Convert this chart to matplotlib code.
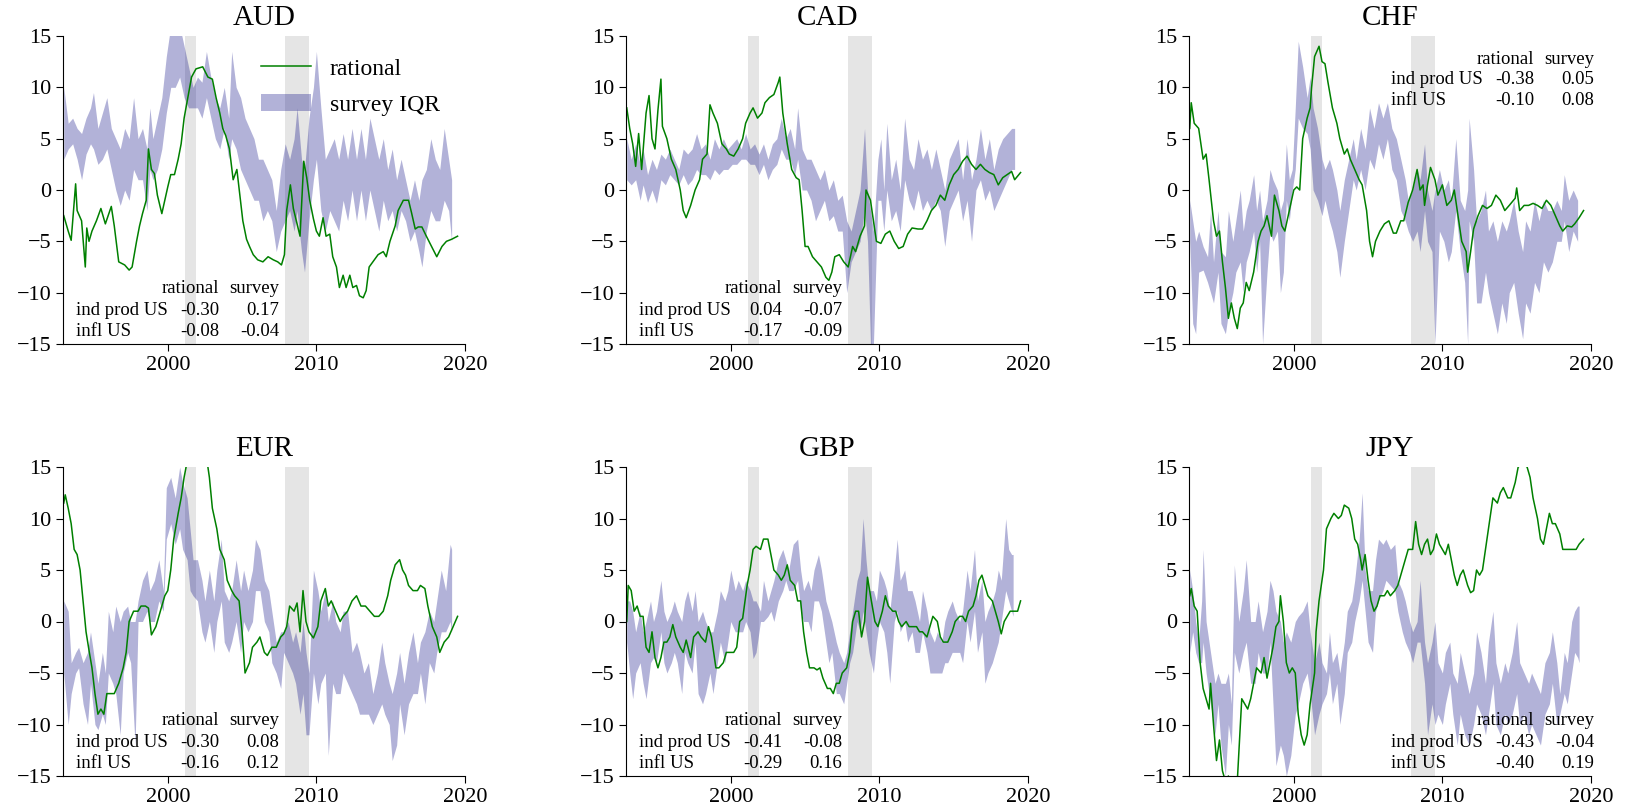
import matplotlib
matplotlib.use('Agg')
import matplotlib.pyplot as plt
import numpy as np

plt.rcParams['font.family'] = 'serif'
plt.rcParams['font.serif'] = ['Liberation Serif', 'DejaVu Serif']

# ---- data (years, percent) ----
aud_t = [1993.0, 1993.1, 1993.3, 1993.5, 1993.8, 1993.9, 1994.2, 1994.45, 1994.55, 1994.7,
         1994.9, 1995.2, 1995.5, 1995.8, 1996.2, 1996.4, 1996.7, 1997.1, 1997.4, 1997.6,
         1997.9, 1998.1, 1998.3, 1998.55, 1998.7, 1998.9, 1999.1, 1999.3, 1999.6, 1999.8,
         2000.0, 2000.2, 2000.45, 2000.7, 2000.9, 2001.1, 2001.35, 2001.6, 2001.9, 2002.35,
         2002.7, 2003.0, 2003.25, 2003.5, 2003.7, 2003.9, 2004.15, 2004.4, 2004.65, 2004.85,
         2005.05, 2005.3, 2005.5, 2005.75, 2006.05, 2006.4, 2006.75, 2007.1, 2007.4, 2007.65,
         2007.85, 2008.0, 2008.25, 2008.45, 2008.65, 2008.9, 2009.15, 2009.35, 2009.55, 2009.8,
         2010.0, 2010.2, 2010.45, 2010.65, 2010.9, 2011.1, 2011.35, 2011.55, 2011.8, 2012.0,
         2012.25, 2012.45, 2012.7, 2012.9, 2013.15, 2013.35, 2013.55, 2013.8, 2014.15, 2014.5,
         2014.7, 2014.95, 2015.3, 2015.5, 2015.85, 2016.2, 2016.4, 2016.65, 2016.85, 2017.1,
         2017.4, 2017.75, 2018.1, 2018.45, 2018.75, 2019.1, 2019.5]
aud_rat = [-2.5, -3, -4, -4.9, 0.6, -2, -3, -7.5, -3.7, -5,
           -4, -3, -1.8, -3.3, -1.6, -3.5, -7, -7.3, -7.8, -7.5,
           -5, -3.5, -2.3, -1, 4, 2, 1.6, -0.5, -2.3, -1,
           0.3, 1.5, 1.5, 3, 4.5, 7, 9, 11, 11.8, 12,
           11, 10.8, 9, 7.5, 6, 5.3, 4, 1, 2, -0.5,
           -3, -4.8, -5.5, -6.3, -6.8, -7, -6.5, -6.8, -7, -7.3,
           -6.3, -2, 0.5, -1.8, -3, -4.5, 2.8, 1.2, -1, -2.8,
           -4, -4.5, -2.7, -4.5, -4.3, -6.5, -7.5, -9.5, -8.3, -9.5,
           -8.3, -9.5, -9.3, -10.3, -10.5, -9.8, -7.5, -7, -6.3, -6,
           -6.5, -5, -3.5, -2, -1, -1, -2.2, -3.8, -3.6, -3.6,
           -4.5, -5.5, -6.5, -5.5, -5, -4.8, -4.5]
aud_bt = [1993.0, 1993.3, 1993.6, 1993.9, 1994.2, 1994.5, 1994.8, 1995.0, 1995.3, 1995.6,
          1995.9, 1996.2, 1996.5, 1996.8, 1997.1, 1997.4, 1997.7, 1998.0, 1998.3, 1998.6,
          1998.8, 1999.0, 1999.3, 1999.6, 1999.9, 2000.2, 2000.5, 2000.8, 2001.1, 2001.4,
          2001.7, 2002.0, 2002.3, 2002.6, 2002.9, 2003.2, 2003.5, 2003.8, 2004.1, 2004.3,
          2004.6, 2004.9, 2005.2, 2005.5, 2005.8, 2006.1, 2006.4, 2006.7, 2007.0, 2007.3,
          2007.6, 2007.9, 2008.2, 2008.5, 2008.7, 2009.0, 2009.2, 2009.5, 2009.8, 2010.0,
          2010.3, 2010.6, 2010.9, 2011.2, 2011.5, 2011.8, 2012.1, 2012.4, 2012.7, 2013.0,
          2013.3, 2013.6, 2013.9, 2014.2, 2014.5, 2014.8, 2015.1, 2015.4, 2015.7, 2016.0,
          2016.3, 2016.6, 2016.9, 2017.1, 2017.4, 2017.7, 2018.0, 2018.3, 2018.6, 2018.9,
          2019.1]
aud_hi = [10, 6.5, 7, 6, 5.5, 7, 8, 9.5, 6, 7.5,
          9, 6, 5, 4, 6, 5, 9, 5, 6, 4,
          8, 5, 7, 9, 13, 16, 16, 16, 14, 12,
          10, 11, 10.5, 13.5, 11, 9, 8, 10, 7, 13.5,
          10, 9, 7, 6, 5, 3, 3, 2, 1, -2,
          2, 4.5, 3, 5, 8, 3, 2, 7, 10, 13.5,
          8, 3, 4, 5, 3, 5.5, 3, 6, 3, 6,
          3, 7, 5, 3, 5, 2, 4, 1, 3, 1,
          -1, 1, -1, 1, 2, 5, 3, 2, 6, 3,
          1]
aud_lo = [3, 4, 4.5, 3, 1, 3.5, 4.5, 4, 2.5, 3,
          4, 2, 0, -1.5, 0, -1, 2, 1, 1, -2,
          2, 1, 2, 4, 7.5, 10, 10, 11, 9, 8,
          8, 8, 7, 9, 7, 5, 4, 6, 3, 5,
          4, 2, 1, 0, -1, -1, -3, -2, -3, -6,
          -4, -3, -2, -4, -2, -6, -8, -3, 1, 3,
          -2, -4, -2, -3, -4, -1, -3, 0, -3, 0,
          -3, 0, -2, -4, -1, -3, -2, -4, -2, -3,
          -5, -4, -6, -7.5, -4, -2, -3, -3, -1, -2,
          -5]

cad_t = [1993.0, 1993.2, 1993.4, 1993.6, 1993.8, 1994.0, 1994.3, 1994.5, 1994.7, 1994.9,
         1995.1, 1995.3, 1995.4, 1995.7, 1996.0, 1996.3, 1996.6, 1996.8, 1997.0, 1997.3,
         1997.6, 1997.9, 1998.1, 1998.4, 1998.6, 1998.8, 1999.1, 1999.4, 1999.7, 1999.9,
         2000.2, 2000.5, 2000.8, 2001.0, 2001.3, 2001.5, 2001.8, 2002.1, 2002.3, 2002.6,
         2002.9, 2003.2, 2003.3, 2003.5, 2003.8, 2004.1, 2004.4, 2004.6, 2004.8, 2005.0,
         2005.2, 2005.5, 2005.8, 2006.1, 2006.4, 2006.6, 2006.8, 2007.0, 2007.3, 2007.6,
         2007.9, 2008.2, 2008.4, 2008.7, 2009.0, 2009.1, 2009.4, 2009.6, 2009.8, 2010.1,
         2010.4, 2010.7, 2011.0, 2011.3, 2011.6, 2011.9, 2012.2, 2012.6, 2012.9, 2013.2,
         2013.5, 2013.8, 2014.1, 2014.4, 2014.7, 2015.0, 2015.3, 2015.6, 2015.9, 2016.2,
         2016.5, 2016.8, 2017.1, 2017.4, 2017.7, 2018.0, 2018.3, 2018.6, 2018.9, 2019.1,
         2019.5]
cad_rat = [8, 6, 4.5, 2.3, 5.5, 2, 7.5, 9.2, 5, 4,
           7.8, 10.8, 6.2, 5, 3, 2, 0, -2, -2.7, -1.5,
           0, 1, 3, 3.5, 8.3, 7.5, 6.5, 4.5, 4, 3.5,
           3.3, 4, 5, 6.5, 7.5, 8, 7, 7.5, 8.5, 9,
           9.3, 10.5, 11, 7.5, 4.5, 2, 1.2, 1, -2, -5.5,
           -5.5, -6.5, -7, -7.5, -8.5, -8.8, -8, -6.5, -6.3, -7,
           -7.5, -5.5, -6, -4.5, -3.5, 0, -1, -3, -5, -5.2,
           -4.3, -4, -5, -5.7, -5.5, -4.3, -3.7, -3.8, -3.8, -3,
           -2, -1.5, -0.5, -1, 0.5, 1.5, 2, 2.8, 3.3, 2.5,
           2, 2.5, 2, 1.7, 1.5, 0.5, 1.2, 1.5, 1.8, 1,
           1.7]
cad_bt = [1993.0, 1993.3, 1993.6, 1993.9, 1994.1, 1994.4, 1994.7, 1995.0, 1995.3, 1995.6,
          1995.9, 1996.2, 1996.5, 1996.8, 1997.1, 1997.4, 1997.7, 1998.0, 1998.3, 1998.6,
          1998.9, 1999.2, 1999.5, 1999.8, 2000.1, 2000.4, 2000.7, 2001.0, 2001.3, 2001.6,
          2001.9, 2002.2, 2002.5, 2002.8, 2003.1, 2003.4, 2003.7, 2004.0, 2004.3, 2004.5,
          2004.8, 2005.1, 2005.4, 2005.7, 2006.0, 2006.3, 2006.6, 2006.9, 2007.2, 2007.5,
          2007.8, 2008.1, 2008.4, 2008.7, 2009.0, 2009.2, 2009.4, 2009.6, 2009.9, 2010.1,
          2010.3, 2010.5, 2010.8, 2011.1, 2011.4, 2011.7, 2012.0, 2012.3, 2012.6, 2012.9,
          2013.2, 2013.5, 2013.8, 2014.1, 2014.4, 2014.7, 2015.0, 2015.3, 2015.6, 2015.9,
          2016.2, 2016.5, 2016.8, 2017.1, 2017.4, 2017.7, 2018.0, 2018.3, 2018.6, 2018.9,
          2019.1]
cad_hi = [5, 3, 4.5, 2.5, 4, 1.5, 3, 2, 3.5, 3,
          4, 3, 2, 4, 3.5, 4, 5.5, 4, 4.5, 3,
          5, 4, 5, 4, 4.5, 5, 4, 5.5, 4, 4.5,
          3.5, 4.5, 3, 4.5, 5, 7, 5, 6, 4, 8,
          4, 3, 3, 2, 1, 2, 0, 1, -1, -0.5,
          -3, -4, -2, 0, 6, 0, -2, -4, 3, 5,
          0, 6.5, 1, 3, 0, 7, 3, 2, 5, 3,
          4, 2, 4, 2, 0, 3, 4, 5, 1, 5,
          1, 3, 6, 3, 5, 2, 4, 5, 5.5, 6,
          6]
cad_lo = [1, 0.5, 1, -1, 0.5, -1.2, 0, -1.3, 1, 0.5,
          1.5, 1, 0.5, 1.5, 0.5, 1, 2, 1.5, 1.5, 1,
          2, 1.5, 2, 2, 2.5, 2.5, 3, 3, 2.5, 2.5,
          1.5, 2.5, 1, 2, 2.5, 4, 3, 3, 1.5, 3,
          0, 0, -1, -3, -2, -1, -3, -2.5, -4, -4,
          -10, -7, -6, -5, -2, -5, -15, -15, -1, -1,
          -4, 0, -3, -2, -4, 1, -1, -2, 0, -2,
          -1, -2, -1, -2, -5.5, -2, -1, 0, -3, -1,
          -5, 0, 1, -1, 0, -2, -1, 0, 1, 2,
          2]

chf_t = [1993.0, 1993.1, 1993.3, 1993.6, 1993.9, 1994.1, 1994.3, 1994.6, 1994.8, 1995.0,
         1995.2, 1995.4, 1995.6, 1995.8, 1996.0, 1996.2, 1996.4, 1996.6, 1996.8, 1997.0,
         1997.3, 1997.6, 1997.8, 1998.0, 1998.2, 1998.5, 1998.7, 1999.0, 1999.2, 1999.4,
         1999.7, 2000.0, 2000.2, 2000.4, 2000.6, 2000.9, 2001.1, 2001.2, 2001.4, 2001.7,
         2001.9, 2002.1, 2002.3, 2002.6, 2002.9, 2003.1, 2003.4, 2003.6, 2003.8, 2004.1,
         2004.4, 2004.6, 2004.9, 2005.1, 2005.3, 2005.5, 2005.8, 2006.1, 2006.4, 2006.7,
         2006.9, 2007.2, 2007.4, 2007.7, 2008.0, 2008.3, 2008.5, 2008.7, 2008.8, 2009.0,
         2009.2, 2009.5, 2009.7, 2010.0, 2010.3, 2010.6, 2010.8, 2011.1, 2011.3, 2011.6,
         2011.7, 2011.9, 2012.1, 2012.4, 2012.7, 2013.0, 2013.3, 2013.6, 2013.9, 2014.2,
         2014.5, 2014.9, 2015.0, 2015.2, 2015.5, 2015.8, 2016.1, 2016.4, 2016.7, 2017.0,
         2017.3, 2017.6, 2017.9, 2018.1, 2018.4, 2018.7, 2018.9, 2019.2, 2019.5]
chf_rat = [6, 8.5, 6.5, 6, 3, 3.5, 1, -3, -4.5, -4,
           -7, -9.5, -12.5, -11, -12.5, -13.5, -11.5, -11, -9, -9.8,
           -8, -5, -4, -3.5, -2.5, -4.5, -0.5, -2, -3.5, -4,
           -2, 0, 0.3, 0, 5, 7, 8, 10, 13, 14,
           12.5, 12.3, 10.5, 8, 6.5, 5, 3.5, 4, 3, 2,
           1, 0.5, -2, -5, -6.5, -5, -4, -3.3, -3, -4.2,
           -4.2, -3, -3, -1.2, 0, 2, 0, 0.5, -1.5, 0.5,
           2.2, 1, -0.5, 0.5, -1.5, -1, 0, -3, -5, -6,
           -8, -6, -3.8, -2.5, -1.5, -1.8, -1.5, -0.5, -1, -2,
           -1.5, -0.8, 0.2, -2, -1.5, -1.5, -1.3, -1.5, -1.8, -1,
           -1.5, -2.5, -3.5, -4, -3.5, -3.6, -3.3, -2.7, -2]
chf_bt = [1993.0, 1993.2, 1993.4, 1993.6, 1993.9, 1994.2, 1994.4, 1994.6, 1994.9, 1995.1,
          1995.4, 1995.6, 1995.9, 1996.1, 1996.4, 1996.6, 1996.8, 1997.0, 1997.3, 1997.5,
          1997.7, 1997.9, 1998.2, 1998.4, 1998.6, 1998.9, 1999.1, 1999.3, 1999.5, 1999.7,
          1999.9, 2000.1, 2000.3, 2000.6, 2000.9, 2001.1, 2001.3, 2001.6, 2001.9, 2002.1,
          2002.4, 2002.6, 2002.9, 2003.1, 2003.4, 2003.7, 2004.0, 2004.2, 2004.5, 2004.8,
          2005.1, 2005.4, 2005.7, 2006.0, 2006.3, 2006.6, 2006.9, 2007.2, 2007.5, 2007.7,
          2008.0, 2008.3, 2008.5, 2008.8, 2009.0, 2009.3, 2009.5, 2009.8, 2010.1, 2010.4,
          2010.6, 2010.9, 2011.2, 2011.5, 2011.7, 2011.8, 2012.1, 2012.3, 2012.6, 2012.9,
          2013.1, 2013.4, 2013.7, 2014.0, 2014.3, 2014.5, 2014.8, 2015.1, 2015.4, 2015.6,
          2015.9, 2016.2, 2016.5, 2016.8, 2017.1, 2017.4, 2017.7, 2018.0, 2018.2, 2018.5,
          2018.8, 2019.1]
chf_hi = [-1, -3, -5, -4, -5.5, -6.5, -2, -7, -2, -6,
          -6.5, -2, -5, -3, 0, -4, -2, -1, 1.5, -2,
          0, -3, -1, 2, 1, 0, -2, -1, 4.5, 1,
          2, 8, 14.5, 12, 9, 11, 8, 6, 3, 2,
          3, 2, 0, -2, 1, 3, 5, 3, 6, 4,
          8, 6, 8.5, 7, 8.5, 6, 5, 3, 1, -1,
          0, 2, 1, 4.5, 0, -2, 0, 2, 0, 1,
          -1, 5, -1, -2, 0, 7, 2, -3, -2, 0,
          -4, -3, -5, -3, -4, -3, -1, -4, -6, -3,
          -4, -1, -3, -1, -2, -2, -1, -2, 1.5, -1,
          0, -1]
chf_lo = [-5, -13, -14, -8, -7.8, -9, -10, -11, -8, -13,
          -14, -12, -10, -8, -7, -10, -7, -6, -4, -8,
          -5, -15, -8, -4, -5, -4, -10, -8, -1, -3,
          0, 2, 7, 6, 5.5, 4, 0, -1, -2.5, -1,
          -3, -4, -6, -8.5, -5, -2, 1, 0, 2, 0,
          3, 2, 4.5, 3, 5, 2, 1, -2, -3, -4,
          -5, -4, -6, -2, -5, -6, -15, -4, -5, -7,
          -6, -2, -6, -9, -15, -3, -5, -11, -11, -8,
          -10, -12, -14, -11, -13, -10, -9, -12, -14.5, -11,
          -12, -9, -10, -7, -8, -7, -5, -5, -3, -6,
          -4, -5]

eur_t = [1993.0, 1993.1, 1993.3, 1993.5, 1993.7, 1993.9, 1994.1, 1994.3, 1994.5, 1994.7,
         1994.9, 1995.1, 1995.3, 1995.5, 1995.7, 1995.9, 1996.2, 1996.4, 1996.7, 1997.0,
         1997.2, 1997.4, 1997.7, 1998.0, 1998.2, 1998.5, 1998.7, 1998.9, 1999.2, 1999.5,
         1999.8, 2000.0, 2000.2, 2000.4, 2000.7, 2000.9, 2001.1, 2001.3, 2001.6, 2001.9,
         2002.3, 2002.6, 2002.8, 2003.0, 2003.3, 2003.5, 2003.8, 2004.0, 2004.3, 2004.5,
         2004.8, 2005.0, 2005.2, 2005.5, 2005.7, 2006.0, 2006.2, 2006.5, 2006.7, 2007.0,
         2007.3, 2007.6, 2007.8, 2008.0, 2008.2, 2008.5, 2008.7, 2008.9, 2009.1, 2009.3,
         2009.5, 2009.8, 2010.1, 2010.3, 2010.6, 2010.8, 2011.0, 2011.3, 2011.6, 2011.8,
         2012.1, 2012.4, 2012.7, 2013.0, 2013.3, 2013.6, 2013.9, 2014.2, 2014.5, 2014.8,
         2015.0, 2015.3, 2015.6, 2015.8, 2016.0, 2016.2, 2016.5, 2016.8, 2017.0, 2017.3,
         2017.5, 2017.8, 2018.1, 2018.3, 2018.6, 2018.9, 2019.2, 2019.5]
eur_rat = [11.5, 12.3, 11, 9.5, 7, 6.5, 5, 2, -1, -2.8,
           -4.5, -7, -9, -8.5, -9, -7, -7, -7, -6, -4.5,
           -3, 0, 1, 1, 1.5, 1.5, 1.3, -1.3, -0.5, 1,
           2.5, 3, 5, 8, 10.5, 12, 14, 15.5, 17, 18,
           18, 16, 14, 11, 9, 7, 6, 4, 3, 2.5,
           2, -1, -5, -4, -2.5, -2, -1.5, -3, -3.3, -2.5,
           -2.5, -1.5, -1.2, -0.5, 1.5, 1, 1.8, -1, 3, 0,
           -1, -1.6, -0.5, 2, 3.2, 1.5, 2, 1, 0, 0.5,
           1, 2, 2.5, 1.5, 1.5, 1, 0.5, 0.5, 1, 2.5,
           4, 5.5, 6, 5, 4.5, 3.5, 3, 3, 3.5, 3.2,
           1.5, -0.5, -1.5, -3, -2, -1.5, -0.5, 0.5]
eur_bt = [1993.0, 1993.3, 1993.5, 1993.8, 1994.0, 1994.3, 1994.6, 1994.8, 1995.1, 1995.3,
          1995.6, 1995.8, 1996.0, 1996.3, 1996.5, 1996.8, 1997.0, 1997.3, 1997.5, 1997.8,
          1998.0, 1998.3, 1998.6, 1998.8, 1999.1, 1999.4, 1999.7, 1999.9, 2000.2, 2000.5,
          2000.8, 2001.0, 2001.3, 2001.5, 2001.7, 2002.0, 2002.3, 2002.5, 2002.8, 2003.1,
          2003.3, 2003.6, 2003.8, 2004.1, 2004.3, 2004.6, 2004.9, 2005.1, 2005.4, 2005.7,
          2005.9, 2006.2, 2006.5, 2006.8, 2007.0, 2007.3, 2007.6, 2007.8, 2008.1, 2008.4,
          2008.6, 2008.9, 2009.1, 2009.3, 2009.5, 2009.8, 2010.1, 2010.3, 2010.6, 2010.8,
          2011.1, 2011.3, 2011.6, 2011.8, 2012.1, 2012.4, 2012.7, 2012.9, 2013.2, 2013.5,
          2013.8, 2014.1, 2014.4, 2014.6, 2014.9, 2015.1, 2015.4, 2015.6, 2015.9, 2016.2,
          2016.5, 2016.8, 2017.0, 2017.3, 2017.6, 2017.9, 2018.1, 2018.4, 2018.7, 2019.0,
          2019.1]
eur_hi = [2, 1, -4, -3, -2.5, -4, -3, -1, -4, -6,
          -3, -5, 1, -1, 1.5, 0, 1, 1.5, 0, 0,
          2, 4, 5, 3, 4, 6, 3, 13, 14, 12,
          15, 13.5, 12, 9, 6, 6, 4, 2, 5, 2,
          5, 8, 3, 2, 3, 6, 3, 5, 3, 5,
          8, 7, 4, 3, 1, -2, -1, -1, 0, -2,
          -1, -3, 0, -3, -5, 5, 3, 1, 3, 0,
          2, 0, -1, 1, 1, -3, -2, -3, -5, -4,
          -7, -5, -2, -4, -6, -7, -5, -3, -6, -3,
          -1, -4, -2, -1, 1, 0, 2, 5, 3, 7.5,
          7]
eur_lo = [-5, -10, -7, -5, -4.5, -8, -10, -6, -10, -10.5,
          -9, -10, -5, -6, -7, -11, -5, -3, -4, -12,
          0, 0, 1, 0, 0, 2, 1, 8, 9.5, 7.5,
          9, 7, 6, 3, 2.5, 2, -1, -2, 0, -3,
          0, 2, -2, -3, -2, 0, -3, 0, -1, 0,
          3, 3, 0, -1, -4, -5, -6.5, -3, -4, -5,
          -6, -9, -7, -11, -11, -5, -8, -6, -5, -13,
          -6, -7, -7, -5, -6, -7, -8, -9, -9, -9,
          -10, -9, -8, -9, -10, -13.5, -12, -8, -11, -8,
          -7, -7, -5, -8, -4, -5, -3, -1, -1, 0,
          -1]

gbp_t = [1993.0, 1993.1, 1993.3, 1993.5, 1993.7, 1993.9, 1994.1, 1994.3, 1994.5, 1994.7,
         1994.9, 1995.1, 1995.3, 1995.5, 1995.7, 1995.9, 1996.1, 1996.3, 1996.6, 1996.8,
         1997.0, 1997.3, 1997.5, 1997.8, 1998.0, 1998.3, 1998.5, 1998.7, 1999.0, 1999.2,
         1999.5, 1999.7, 2000.0, 2000.2, 2000.4, 2000.6, 2000.8, 2001.1, 2001.3, 2001.5,
         2001.7, 2002.0, 2002.2, 2002.5, 2002.7, 2002.9, 2003.2, 2003.4, 2003.6, 2003.8,
         2004.0, 2004.3, 2004.5, 2004.7, 2004.9, 2005.1, 2005.3, 2005.6, 2005.8, 2006.0,
         2006.2, 2006.5, 2006.7, 2006.9, 2007.1, 2007.3, 2007.5, 2007.8, 2008.0, 2008.2,
         2008.4, 2008.6, 2008.8, 2009.0, 2009.2, 2009.4, 2009.7, 2009.9, 2010.2, 2010.4,
         2010.6, 2010.9, 2011.1, 2011.3, 2011.5, 2011.8, 2012.0, 2012.2, 2012.5, 2012.7,
         2012.9, 2013.2, 2013.4, 2013.6, 2013.9, 2014.1, 2014.3, 2014.6, 2014.9, 2015.1,
         2015.4, 2015.6, 2015.8, 2016.0, 2016.3, 2016.5, 2016.7, 2016.9, 2017.1, 2017.3,
         2017.6, 2017.8, 2018.0, 2018.2, 2018.4, 2018.6, 2018.8, 2019.0, 2019.3, 2019.5]
gbp_rat = [0, 3.5, 3, 1, 1.5, 0.5, 0.5, -2.5, -3, -1,
           -3.5, -4.5, -3.5, -2, -2, -1.5, -0.3, -1.5, -2.5, -3,
           -1.8, -3.5, -1.5, -1, -1.5, -2, -0.5, -1.5, -4.5, -4.5,
           -4, -3, -3, -3, -2.5, 0, 0.3, 3.5, 5, 7,
           7.3, 7, 8, 8, 6.5, 5, 4.5, 4, 4.5, 5.5,
           4, 3.5, 2, 2, -1, -3, -4.5, -4.5, -4.7, -4.5,
           -5.5, -6.5, -6.5, -7, -6, -6, -5, -4.5, -3, 0,
           1, 1, -1.5, 0, 4.3, 2.5, 0, -0.5, 1, 2.5,
           1.5, 1, 1, 0, -0.5, 0, -0.5, -0.5, -0.5, -1,
           -1, -1.5, -0.5, 0.5, 0, -1.5, -2, -2, -1, 0,
           0.5, 0.5, 0, 1, 1.5, 2.5, 4, 4.5, 3.5, 2.5,
           2, 1, 0, -1.2, 0, 0.5, 1, 1, 1, 2]
gbp_bt = [1993.0, 1993.2, 1993.4, 1993.6, 1993.9, 1994.1, 1994.3, 1994.6, 1994.8, 1995.0,
          1995.3, 1995.5, 1995.7, 1996.0, 1996.2, 1996.4, 1996.7, 1996.9, 1997.1, 1997.4,
          1997.6, 1997.8, 1998.1, 1998.3, 1998.6, 1998.8, 1999.1, 1999.3, 1999.6, 1999.8,
          2000.0, 2000.3, 2000.5, 2000.8, 2001.0, 2001.3, 2001.5, 2001.7, 2002.0, 2002.2,
          2002.5, 2002.7, 2002.9, 2003.2, 2003.5, 2003.7, 2003.9, 2004.2, 2004.5, 2004.7,
          2004.9, 2005.2, 2005.4, 2005.6, 2005.9, 2006.1, 2006.4, 2006.6, 2006.8, 2007.1,
          2007.3, 2007.6, 2007.8, 2008.0, 2008.2, 2008.5, 2008.7, 2008.9, 2009.1, 2009.3,
          2009.6, 2009.8, 2010.0, 2010.3, 2010.5, 2010.7, 2011.0, 2011.2, 2011.4, 2011.7,
          2011.9, 2012.2, 2012.4, 2012.7, 2012.9, 2013.2, 2013.4, 2013.7, 2013.9, 2014.2,
          2014.4, 2014.6, 2014.9, 2015.1, 2015.4, 2015.6, 2015.9, 2016.1, 2016.4, 2016.6,
          2016.9, 2017.1, 2017.3, 2017.6, 2017.8, 2018.0, 2018.2, 2018.5, 2018.7, 2018.9,
          2019.0]
gbp_hi = [2, 2, 1, -1, 1, -1, 0, 2, 0, 1,
          4, 1, 0, 1, 2, 1, 0, 2, 3, 1,
          3, 0, 1, 0, -1, -1, 1, 3, 2, 3,
          5, 3, 4, 3, 4, 3, 2, 2, 1, 4,
          2, 3, 4, 6, 7, 6, 5, 7.5, 8, 5,
          3, 4, 3, 5, 6.5, 5, 2, 1, 0, -2,
          -3, -4, -3, -1, 1, 4, 5, 10, 6, 3,
          3, 2, 5, 4, 3, 1, 5, 8, 4, 5,
          3, 3, 2, 0, 3, 1, -1, -2, -1, -2,
          0, 1, 2, 1, 0, 1, 5, 3, 7, 2,
          4, 0, 1, 2, 3, 5, 4, 10, 7, 6.5,
          6.5]
gbp_lo = [-2, -5, -7.5, -5, -4, -6, -7.5, -4, -3.5, -4,
          -1, -4, -5, -4, -3, -4, -7, -3, -4, -5,
          -2, -7, -8, -7, -5, -7, -4, -2, -4, -2,
          0, -1, -1, -1, 0, -1, -3.6, -3, 0, 0,
          0.5, 1, 0, 2, 3, 4, 3, 3, 4, 1,
          0, 0, -1, 2, 2, 1, -2, -4, -3, -7,
          -7, -8, -6, -4, -3, 0, -1, 1, -1, -3,
          -5, -2, 0, -1, -3, -6, 0, 1, -1, 0,
          -2, -1, -3, -3, -1, -3, -5, -5, -5, -5,
          -4, -4, -3, -3, -3, -4, 0, -2, 1, -3,
          -1, -6, -5, -4, -3, -2, 0, 3, 2, 1,
          0.5]

jpy_t = [1993.0, 1993.1, 1993.3, 1993.5, 1993.7, 1993.9, 1994.1, 1994.3, 1994.4, 1994.6,
         1994.8, 1995.0, 1995.2, 1995.4, 1995.6, 1995.9, 1996.2, 1996.5, 1996.7, 1996.9,
         1997.1, 1997.3, 1997.5, 1997.8, 1998.0, 1998.2, 1998.4, 1998.6, 1998.8, 1999.0,
         1999.1, 1999.3, 1999.5, 1999.7, 1999.9, 2000.1, 2000.3, 2000.5, 2000.7, 2000.9,
         2001.1, 2001.4, 2001.5, 2001.7, 2001.9, 2002.0, 2002.2, 2002.5, 2002.7, 2003.0,
         2003.2, 2003.4, 2003.7, 2003.9, 2004.1, 2004.3, 2004.5, 2004.6, 2004.8, 2005.0,
         2005.2, 2005.4, 2005.6, 2005.8, 2006.1, 2006.3, 2006.5, 2006.8, 2007.0, 2007.2,
         2007.5, 2007.7, 2008.0, 2008.2, 2008.4, 2008.6, 2008.8, 2009.0, 2009.2, 2009.4,
         2009.6, 2009.8, 2010.0, 2010.2, 2010.4, 2010.6, 2010.8, 2011.0, 2011.2, 2011.4,
         2011.7, 2011.9, 2012.1, 2012.3, 2012.5, 2012.7, 2013.0, 2013.2, 2013.4, 2013.7,
         2013.9, 2014.1, 2014.4, 2014.6, 2014.9, 2015.1, 2015.4, 2015.7, 2015.9, 2016.1,
         2016.4, 2016.6, 2016.8, 2017.0, 2017.2, 2017.4, 2017.6, 2017.9, 2018.1, 2018.4,
         2018.7, 2019.0, 2019.2, 2019.5]
jpy_rat = [2.5, 3.2, 1.5, 1, -4, -6.5, -7.5, -8.5, -6, -10,
           -13.5, -11.5, -14.5, -15.5, -15, -16, -15.5, -7.5, -8, -8.5,
           -7.5, -6, -4.5, -5, -3.5, -5.5, -4, -2.5, -0.5, 0,
           2.5, 0, -4, -5, -4.5, -5, -9, -11, -12, -11,
           -8, -5, -1, 2, 4, 5, 9, 10, 10.5, 10,
           10.3, 11.3, 11, 10, 8, 7.5, 6, 5, 6.5, 4,
           2, 1, 1.5, 2.5, 2.5, 3, 2.5, 3, 3.5, 4.5,
           6, 7, 7, 9.7, 7.5, 6.5, 7.5, 8, 6.5, 7,
           8.5, 7.5, 7, 6.5, 7.5, 6, 4.5, 3.5, 4.5, 5,
           3.5, 2.8, 3, 5, 4.5, 5, 8, 10, 12, 11.5,
           12.5, 13, 12, 12, 13.5, 15, 15.3, 15, 14, 12,
           10, 8, 7.5, 9, 10.5, 9.5, 9.5, 8.5, 7, 7,
           7, 7, 7.5, 8]
jpy_bt = [1993.0, 1993.2, 1993.4, 1993.6, 1993.8, 1993.9, 1994.1, 1994.3, 1994.5, 1994.7,
          1994.9, 1995.1, 1995.4, 1995.6, 1995.8, 1996.0, 1996.3, 1996.6, 1996.8, 1997.1,
          1997.4, 1997.6, 1997.9, 1998.2, 1998.4, 1998.6, 1998.8, 1999.1, 1999.3, 1999.5,
          1999.8, 2000.1, 2000.3, 2000.6, 2000.9, 2001.1, 2001.4, 2001.7, 2001.9, 2002.2,
          2002.4, 2002.6, 2002.9, 2003.1, 2003.4, 2003.6, 2003.9, 2004.1, 2004.4, 2004.6,
          2004.8, 2005.0, 2005.3, 2005.5, 2005.7, 2006.0, 2006.2, 2006.5, 2006.8, 2007.0,
          2007.3, 2007.5, 2007.8, 2008.0, 2008.3, 2008.5, 2008.8, 2009.0, 2009.3, 2009.5,
          2009.7, 2010.0, 2010.2, 2010.5, 2010.7, 2011.0, 2011.2, 2011.5, 2011.8, 2012.1,
          2012.3, 2012.6, 2012.9, 2013.1, 2013.4, 2013.6, 2013.9, 2014.2, 2014.4, 2014.7,
          2015.0, 2015.2, 2015.5, 2015.8, 2016.0, 2016.3, 2016.6, 2016.9, 2017.2, 2017.4,
          2017.7, 2017.9, 2018.2, 2018.4, 2018.7, 2018.9, 2019.1, 2019.2]
jpy_hi = [5, 3, 0, -2, 2, 7, 0, -2, -4, -6,
          -5, -6, -6, -5, -8, 5.5, 0, 3, 6, 0,
          0, 2, -1, 1, 4, 3, 1, 0, -2, -1,
          -2, 0, 0.5, 1, 2, -1, -4, -2, -4, -5,
          -1, -4, -3, -5, -2, 1, 2, 4, 8, 12.5,
          5, 3, 3, 6, 8, 7.5, 8, 7, 7.5, 4,
          3, 2, 0, -1, 0, 4, -2, -4, -2, 0,
          -4, -5, -3, -2, -5, -6, -3, -5, -7, -5,
          -1, -3, -6, -2, 1, -4, -6, -4, -5, -3,
          0, -4, -5, -6, -5, -6, -7, -4, -3, -1,
          -4, -7, -3, -4, 0, 1, 1.5, 1.5]
jpy_lo = [-3, -1, -3, -4, -4, -2, -5, -7, -9, -11,
          -8, -12, -15, -10, -12, -3, -5, -3, -2, -6,
          -6, -3, -5, -5, -2, -8, -14, -12, -13, -15,
          -13, -9, -8, -6, -5, -7, -11, -9, -8, -7,
          -5, -8, -6, -10, -7, -3, -2, 0, 2, 4,
          1, -2, -3, 1, 2, 3, 4, 3.5, 3, 1,
          -1, -2, -3, -4, -2, -2, -6, -11, -8, -10,
          -9, -10, -8, -6, -9, -12, -9, -11, -12, -10,
          -8, -9, -11, -9, -6, -10, -11, -9, -10, -9,
          -7, -10, -9, -11, -10, -11, -12, -9, -8, -6,
          -10, -9, -7, -8, -5, -3, -3.5, -4]

currencies = ['AUD', 'CAD', 'CHF', 'EUR', 'GBP', 'JPY']
ip_rational = [-0.30, 0.04, -0.38, -0.30, -0.41, -0.43]
ip_survey = [0.17, -0.07, 0.05, 0.08, -0.08, -0.04]
infl_rational = [-0.08, -0.17, -0.10, -0.16, -0.29, -0.40]
infl_survey = [-0.04, -0.09, 0.08, 0.12, 0.16, 0.19]
recessions = [(2001.17, 2001.92), (2007.92, 2009.5)]

series = {
    'AUD': (aud_t, aud_rat, aud_bt, aud_lo, aud_hi),
    'CAD': (cad_t, cad_rat, cad_bt, cad_lo, cad_hi),
    'CHF': (chf_t, chf_rat, chf_bt, chf_lo, chf_hi),
    'EUR': (eur_t, eur_rat, eur_bt, eur_lo, eur_hi),
    'GBP': (gbp_t, gbp_rat, gbp_bt, gbp_lo, gbp_hi),
    'JPY': (jpy_t, jpy_rat, jpy_bt, jpy_lo, jpy_hi),
}
table_loc = ['ll', 'll', 'ur', 'll', 'll', 'lr']

# ---- layout (pixels of a 1625x809 canvas) ----
W, H = 1625, 809
col_left = [63, 626, 1189]
col_width = [402, 402, 402]
row_top = [36, 467]
row_height = [308, 309]

fig = plt.figure(figsize=(W / 100, H / 100), dpi=100)

for k, cur in enumerate(currencies):
    r, c = divmod(k, 3)
    ax = fig.add_axes([col_left[c] / W, 1 - (row_top[r] + row_height[r]) / H,
                       col_width[c] / W, row_height[r] / H])
    t, rat, bt, lo, hi = series[cur]

    for a, b in recessions:
        ax.axvspan(a, b, color='grey', alpha=0.2, lw=0)
    band = ax.fill_between(bt, lo, hi, color='navy', alpha=0.3, lw=0)
    line, = ax.plot(t, rat, color='green', lw=1.1)

    ax.set_xlim(1992.95, 2020)
    ax.set_ylim(-15, 15)
    ax.set_xticks([2000, 2010, 2020])
    ax.set_yticks(np.arange(-15, 16, 5))
    ax.spines['top'].set_visible(False)
    ax.spines['right'].set_visible(False)
    ax.tick_params(labelsize=16, direction='out', length=5)
    ax.set_title(cur, fontsize=21, pad=8)

    if k == 0:
        ax.legend([line, band], ['rational', 'survey IQR'], loc='upper left',
                  bbox_to_anchor=(0.47, 0.96), frameon=False, fontsize=17,
                  handlelength=2.1, handleheight=0.75, handletextpad=0.8,
                  labelspacing=0.6, borderaxespad=0)

    rows = [('', 'rational', 'survey'),
            ('ind prod US', '%.2f' % ip_rational[k], '%.2f' % ip_survey[k]),
            ('infl US', '%.2f' % infl_rational[k], '%.2f' % infl_survey[k])]
    wpx = col_width[c]
    hpx = row_height[r]
    if table_loc[k] == 'll':
        xs = [13 / wpx, 156 / wpx, 216 / wpx]
    else:
        xs = [1 - 200 / wpx, 1 - 57 / wpx, 1 + 3 / wpx]
    if table_loc[k] == 'ur':
        ys = [1 - 27.6 / hpx, 1 - 48.3 / hpx, 1 - 69.3 / hpx]
    else:
        ys = [51 / hpx, 29.3 / hpx, 8.3 / hpx]
    for row, y in zip(rows, ys):
        ax.text(xs[0], y, row[0], transform=ax.transAxes, fontsize=13.5,
                ha='left', va='baseline')
        ax.text(xs[1], y, row[1], transform=ax.transAxes, fontsize=13.5,
                ha='right', va='baseline')
        ax.text(xs[2], y, row[2], transform=ax.transAxes, fontsize=13.5,
                ha='right', va='baseline')

fig.savefig('out.png', dpi=100)
